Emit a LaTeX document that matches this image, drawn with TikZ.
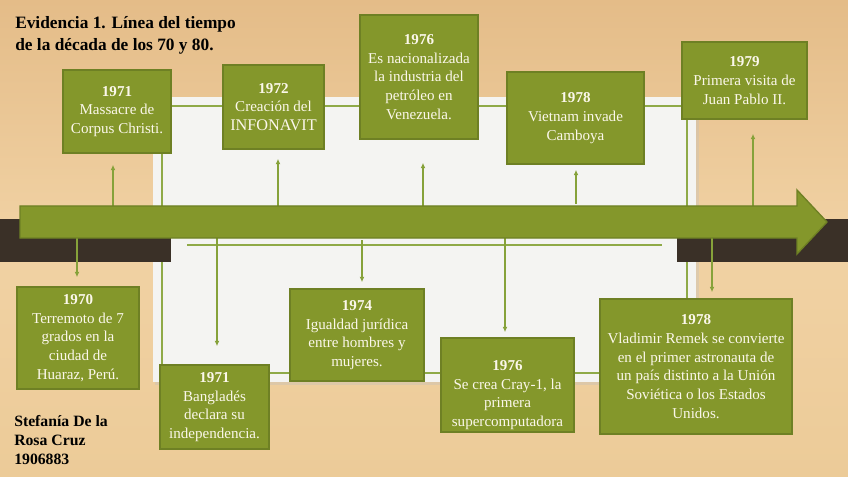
\documentclass[tikz,border=0pt]{standalone}
\usepackage{fontspec}
\setmainfont{Liberation Serif}
\usetikzlibrary{arrows.meta,calc}
\definecolor{boxgreen}{HTML}{84972B}
\definecolor{boxedge}{HTML}{6E8024}
\definecolor{linegreen}{HTML}{86A23A}
\definecolor{framegreen}{HTML}{8FAA48}
\definecolor{bandbrown}{HTML}{3A3027}
\definecolor{woodtop}{HTML}{E4BC88}
\definecolor{woodmid}{HTML}{F1D2A4}
\definecolor{woodbot}{HTML}{ECCB98}
\definecolor{paneltone}{HTML}{F4F4F2}
\definecolor{boxtext}{HTML}{FBF7EA}
\tikzset{
  evbox/.style={draw=boxedge, line width=1.2pt, fill=boxgreen, text=boxtext,
    align=center, inner sep=0pt, font=\fontsize{11.3}{14}\selectfont},
  evtext/.style={text=boxtext, align=center, inner sep=0pt, font=\fontsize{11.3}{14}\selectfont},
  conn/.style={draw=linegreen, line width=0.9pt, -{Latex[length=4pt,width=3.6pt]}},
  bigarrow/.style={draw=boxedge, line width=1pt, fill=boxgreen},
  headline/.style={font=\bfseries\fontsize{13}{16.5}\selectfont, align=left, anchor=north west, inner sep=0pt},
  authorline/.style={font=\bfseries\fontsize{11.8}{14.2}\selectfont, align=left, anchor=north west, inner sep=0pt}
}
\begin{document}
\begin{tikzpicture}[x=0.75pt,y=-0.75pt]
\useasboundingbox (0,0) rectangle (848,477);
% wooden background
\shade[top color=woodtop, bottom color=woodbot, middle color=woodmid] (0,0) rectangle (848,477);
% panel
\fill[black!25,opacity=0.35] (155,99) rectangle (699,385);
\fill[paneltone] (153,97) rectangle (696,382);
\draw[framegreen, line width=1.6pt] (162,106) rectangle (687,373);
% dark band
\fill[bandbrown] (0,219) rectangle (171,262);
\fill[bandbrown] (677,219) rectangle (848,262);
% inner line
\draw[framegreen, line width=1.6pt] (187,245) -- (662,245);
% connector start points
\coordinate (u1) at (113,206);
\coordinate (u2) at (278,206);
\coordinate (u3) at (423,206);
\coordinate (u4) at (576,204);
\coordinate (u5) at (753,206);
\coordinate (d1) at (77,238);
\coordinate (d2) at (217,238);
\coordinate (d3) at (362,240);
\coordinate (d4) at (505,238);
\coordinate (d5) at (712,238);
% boxes
\node[evbox, minimum width=81pt, minimum height=62.25pt] (m1971) at (117,111.5)
  {\textbf{1971}\\Massacre de\\Corpus Christi.};
\node[evbox, minimum width=75.75pt, minimum height=63pt] (i1972) at (273.5,107)
  {\textbf{1972}\\Creación del\\{\fontsize{12.2}{14}\selectfont INFONAVIT}};
\node[evbox, minimum width=88.5pt, minimum height=93pt] (v1976) at (419,77)
  {\textbf{1976}\\Es nacionalizada\\la industria del\\petróleo en\\Venezuela.};
\node[evbox, minimum width=102.75pt, minimum height=69pt] (c1978) at (575.5,118)
  {\textbf{1978}\\Vietnam invade\\Camboya};
\node[evbox, minimum width=93.75pt, minimum height=57.75pt] (j1979) at (744.5,80.5)
  {\textbf{1979}\\Primera visita de\\Juan Pablo II.};
\node[evbox, minimum width=91.5pt, minimum height=76.5pt] (t1970) at (78,338)
  {\textbf{1970}\\Terremoto de 7\\grados en la\\ciudad de\\Huaraz, Perú.};
\node[evbox, minimum width=81.75pt, minimum height=63pt] (b1971) at (214.5,407)
  {\textbf{1971}\\Bangladés\\declara su\\independencia.};
\node[evbox, minimum width=100.5pt, minimum height=69pt] (g1974) at (357,335)
  {\textbf{1974}\\Igualdad jurídica\\entre hombres y\\mujeres.};
\node[evbox, minimum width=99.75pt, minimum height=70.5pt] (s1976) at (507.5,385) {};
\node[evtext] (s1976t) at (507.5,395)
  {\textbf{1976}\\Se crea Cray-1, la\\primera\\supercomputadora};
\node[evbox, minimum width=144pt, minimum height=101.25pt] (r1978) at (696,366.5)
  {\textbf{1978}\\Vladimir Remek se convierte\\en el primer astronauta de\\un país distinto a la Unión\\Soviética o los Estados\\Unidos.};
% connectors
\draw[conn, shorten >=8.25pt] (u1) -- (u1 |- m1971.south);
\draw[conn, shorten >=6.75pt] (u2) -- (u2 |- i1972.south);
\draw[conn, shorten >=17.25pt] (u3) -- (u3 |- v1976.south);
\draw[conn, shorten >=3.75pt] (u4) -- (u4 |- c1978.south);
\draw[conn, shorten >=10.5pt] (u5) -- (u5 |- j1979.south);
\draw[conn, shorten >=6.75pt] (d1) -- (d1 |- t1970.north);
\draw[conn, shorten >=13.5pt] (d2) -- (d2 |- b1971.north);
\draw[conn, shorten >=4.5pt] (d3) -- (d3 |- g1974.north);
\draw[conn, shorten >=3.75pt] (d4) -- (d4 |- s1976.north);
\draw[conn, shorten >=4.5pt] (d5) -- (d5 |- r1978.north);
% big timeline arrow
\draw[bigarrow] (20,206) -- (797,206) -- (797,190) -- (827,222) -- (797,254) -- (797,238) -- (20,238) -- cycle;
% title and author
\node[headline] (title) at (15,16) {Evidencia 1. Línea del tiempo\\de la década de los 70 y 80.};
\node[authorline] (author) at (14,415) {Stefanía De la\\Rosa Cruz\\1906883};
\end{tikzpicture}
\end{document}
